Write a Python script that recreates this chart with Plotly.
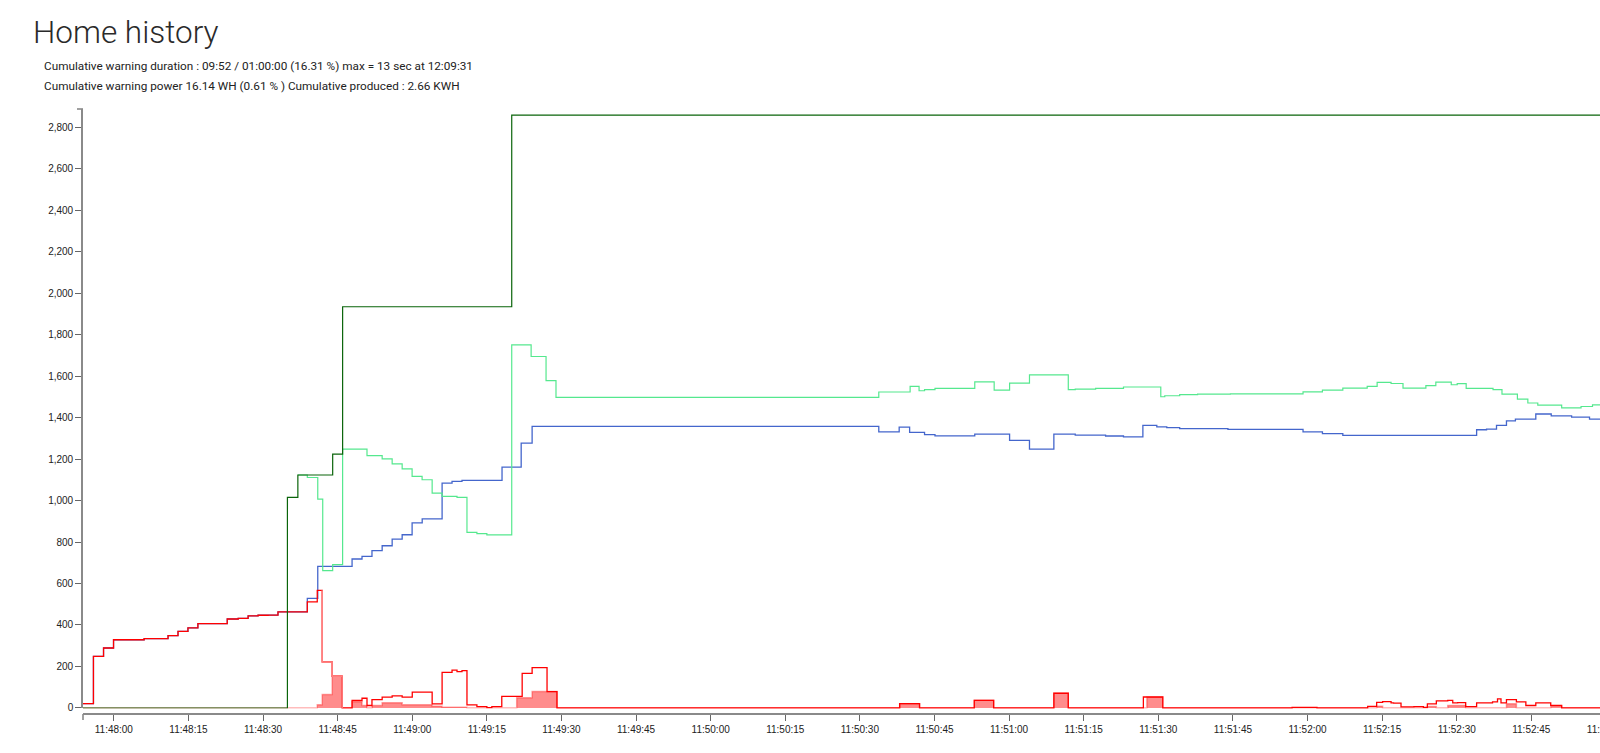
import pandas as pd
import plotly.graph_objects as go

BASE = pd.Timestamp("2024-01-01 11:48:00")

# time in seconds relative to 11:48:00 ; step values (held until next time)
dkgreen_t = [-6.2, 34.9, 37.0, 44.0, 46.0, 80.0, 307.0]
dkgreen_v = [0, 1015, 1123, 1224, 1934, 2857, 2857]

ltgreen_t = [37.0, 38.9, 41.0, 42.0, 44.0, 46.0, 50.9, 53.95, 55.96, 57.97, 59.97, 61.98,
             64.0, 66.0, 69.0, 71.0, 73.0, 75.0, 80.0, 83.9, 86.9, 88.9, 153.8, 160.1,
             161.9, 163.0, 165.1, 173.1, 177.0, 180.1, 184.1, 191.9, 193.3, 197.4, 203.0,
             210.5, 211.3, 214.3, 217.9, 224.5, 239.1, 243.0, 247.1, 252.0, 254.0, 256.8,
             259.2, 263.8, 265.8, 268.9, 270.1, 271.9, 277.3, 279.1, 282.2, 284.3, 286.3,
             291.1, 295.0, 297.3, 307.0]
ltgreen_v = [1123, 1111, 1007, 662, 691, 1248, 1216, 1201, 1177, 1152, 1116, 1100,
             1036, 1020, 1015, 846, 840, 834, 1750, 1694, 1578, 1497, 1523, 1550,
             1529, 1534, 1540, 1572, 1532, 1566, 1606, 1534, 1537, 1540, 1547,
             1500, 1505, 1510, 1513, 1514, 1524, 1532, 1542, 1550, 1569, 1564,
             1542, 1554, 1571, 1558, 1563, 1540, 1534, 1513, 1489, 1470, 1460,
             1446, 1453, 1461, 1461]

blue_t = [-6.2, -4.1, -2.07, -0.06, 6.09, 10.9, 12.9, 14.9, 16.9, 22.8, 25.0, 27.0, 29.0,
          31.0, 33.0, 38.9, 41.0, 47.9, 49.9, 51.9, 53.95, 55.96, 57.97, 59.97, 62.0,
          66.0, 68.0, 70.0, 78.05, 81.9, 84.1, 153.8, 157.9, 160.0, 163.0, 165.1, 173.1,
          180.1, 184.1, 189.0, 193.3, 199.4, 203.0, 206.9, 209.7, 211.7, 214.3, 224.0,
          239.1, 243.0, 247.1, 274.0, 276.0, 278.0, 280.0, 281.8, 285.9, 289.0, 293.1,
          296.7, 307.0]
blue_v = [21, 249, 289, 329, 334, 349, 369, 386, 407, 429, 432, 444, 447,
          448, 463, 528, 683, 718, 731, 758, 782, 814, 835, 892, 911,
          1084, 1092, 1097, 1161, 1277, 1357, 1331, 1354, 1328, 1318, 1312, 1320,
          1290, 1248, 1320, 1315, 1311, 1307, 1362, 1355, 1351, 1346, 1343,
          1331, 1322, 1314, 1341, 1344, 1362, 1384, 1392, 1417, 1408, 1402,
          1392, 1392]

red_t = [-6.2, -4.1, -2.07, -0.06, 6.09, 10.9, 12.9, 14.9, 16.9, 22.8, 25.0, 27.0, 29.0,
         31.0, 33.0, 38.9, 40.9, 41.9, 43.9, 45.9, 47.9, 49.9, 50.9, 51.9, 53.95, 55.96,
         57.97, 60.0, 64.0, 66.0, 68.0, 69.0, 70.0, 71.0, 73.0, 75.0, 76.0, 78.0, 82.1,
         84.1, 87.1, 89.1, 158.0, 162.0, 173.0, 176.9, 189.0, 191.9, 207.0, 210.9,
         236.9, 241.9, 252.1, 253.9, 255.1, 256.8, 257.3, 258.8, 261.4, 263.3, 264.1,
         265.9, 268.2, 269.2, 270.2, 271.8, 274.0, 277.2, 278.2, 278.9, 280.0, 282.0,
         283.9, 285.9, 288.9, 291.1, 307.0]
red_v = [21, 249, 289, 329, 334, 349, 369, 386, 407, 429, 432, 444, 447,
         448, 463, 511, 567, 222, 153, 0, 36, 47, 12, 40, 52, 58,
         52, 76, 20, 172, 182, 175, 180, 15, 7, 2, 7, 56, 167,
         195, 79, 0, 21, 0, 37, 0, 71, 0, 53, 0,
         3, 0, 8, 27, 31, 25, 23, 5, 7, 3, 20,
         34, 37, 25, 26, 7, 25, 29, 44, 25, 40, 29,
         12, 25, 13, 0, 0]

# part of the red curve drawn faded (warning drop)
fade_t = [41.9, 41.9, 43.9, 45.9]
fade_v = [567, 222, 153, 0]

warn_t = [-6.2, 40.9, 41.9, 43.9, 45.9, 47.9, 49.9, 50.9, 51.9, 53.95, 57.97, 64.0, 66.0,
          71.0, 81.0, 84.1, 89.1, 158.0, 162.0, 173.0, 176.9, 189.0, 191.9, 207.7, 210.9,
          253.9, 255.1, 264.1, 265.9, 268.2, 271.8, 280.0, 282.0, 288.9, 291.1, 307.0]
warn_v = [0, 16, 65, 153, 0, 30, 12, 0, 12, 25, 16, 8, 4,
          0, 49, 79, 0, 21, 0, 37, 0, 71, 0, 53, 0,
          8, 0, 7, 0, 12, 0, 20, 0, 8, 0, 0]

y_ticks = list(range(0, 2801, 200))
x_start, x_end = -6.2, 306.85
y_min, y_max = -2, 2887
subtitle1 = "Cumulative warning duration : 09:52 / 01:00:00 (16.31 %) max = 13 sec at 12:09:31"
subtitle2 = "Cumulative warning power 16.14 WH (0.61 % ) Cumulative produced : 2.66 KWH"


def ts(sec):
    return BASE + pd.to_timedelta(sec, unit="s")


# the chart is wider than the 1600px window; the right part is cut off as in the original
W, H = 1640, 753
ML, MR, MT, MB = 83, 0, 109, 33
paper_h = H - MT - MB
paper_w = W - ML - MR
plot_bottom_px = 708.4
xaxis_px = 714.0

fig = go.Figure()

fig.add_trace(go.Scatter(x=ts(warn_t), y=warn_v, mode="lines",
                         line=dict(shape="hv", width=1.5, color="rgba(255,0,0,0.35)"),
                         fill="tozeroy", fillcolor="rgba(255,0,0,0.45)",
                         hoverinfo="skip", showlegend=False))
fig.add_trace(go.Scatter(x=ts(blue_t), y=blue_v, mode="lines",
                         line=dict(shape="hv", width=1.3, color="#4466cc"),
                         hoverinfo="skip", showlegend=False))
fig.add_trace(go.Scatter(x=ts(ltgreen_t), y=ltgreen_v, mode="lines",
                         line=dict(shape="hv", width=1.2, color="#55e88e"),
                         hoverinfo="skip", showlegend=False))
fig.add_trace(go.Scatter(x=ts(red_t), y=red_v, mode="lines",
                         line=dict(shape="hv", width=1.3, color="#ff0000"),
                         hoverinfo="skip", showlegend=False))
fig.add_trace(go.Scatter(x=ts(fade_t), y=fade_v, mode="lines",
                         line=dict(shape="hv", width=1.5, color="#ff8080"),
                         hoverinfo="skip", showlegend=False))
fig.add_trace(go.Scatter(x=ts(dkgreen_t), y=dkgreen_v, mode="lines",
                         line=dict(shape="hv", width=1.2, color="#0a640a"),
                         hoverinfo="skip", showlegend=False))

tick_font = dict(family="Liberation Sans, Arial, sans-serif", size=10, color="#222")
axis_col = "#8a8a8a"

fig.update_layout(
    width=W, height=H,
    margin=dict(l=ML, r=MR, t=MT, b=MB, pad=0),
    paper_bgcolor="white", plot_bgcolor="white",
    title=dict(text="Home history", xref="container", yref="container",
               x=33 / W, xanchor="left", y=1 - 31.5 / H, yanchor="middle",
               font=dict(family="Roboto", size=31.5, color="#2a2a2a", weight=300)),
    xaxis=dict(type="date", range=[ts(x_start), ts(x_end)],
               tick0=BASE, dtick=15000, tickformat="%H:%M:%S",
               ticks="outside", ticklen=6, tickwidth=1, tickcolor="#666",
               showline=True, linecolor=axis_col, linewidth=1.6,
               showgrid=False, zeroline=False, tickfont=tick_font,
               anchor="free", position=(H - MB - xaxis_px) / paper_h),
    yaxis=dict(range=[y_min, y_max], tickvals=y_ticks, tickformat=",",
               domain=[(H - MB - plot_bottom_px) / paper_h, 1],
               ticks="outside", ticklen=6, tickwidth=1, tickcolor="#666",
               showline=True, linecolor=axis_col, linewidth=1.6,
               showgrid=False, zeroline=False, tickfont=tick_font),
    annotations=[
        dict(text=subtitle1, xref="paper", yref="paper", x=(41.5 - ML) / paper_w,
             y=(H - MB - 65.5) / paper_h, xanchor="left", yanchor="middle",
             showarrow=False, font=dict(family="Roboto", size=11.75, color="#222")),
        dict(text=subtitle2, xref="paper", yref="paper", x=(41.5 - ML) / paper_w,
             y=(H - MB - 85.8) / paper_h, xanchor="left", yanchor="middle",
             showarrow=False, font=dict(family="Roboto", size=11.75, color="#222")),
    ],
    shapes=[
        # outer ticks of the axes (d3 style)
        dict(type="line", xref="paper", yref="paper", x0=-6 / paper_w, x1=0, y0=1, y1=1,
             line=dict(color=axis_col, width=1.6)),
        dict(type="line", xref="paper", yref="paper", x0=0, x1=0,
             y0=(H - MB - xaxis_px) / paper_h, y1=(H - MB - xaxis_px - 6) / paper_h,
             line=dict(color=axis_col, width=1.6)),
    ],
)

fig.write_html("out.html", config={"displayModeBar": False},
               post_script="document.body.style.margin='0';document.body.style.overflow='hidden';")
